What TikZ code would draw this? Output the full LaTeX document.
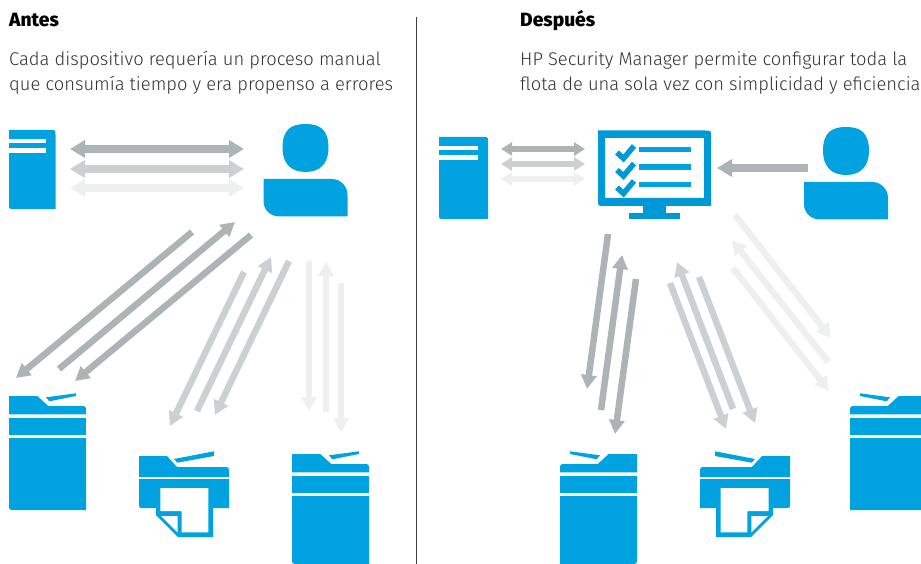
\documentclass[tikz,border=0pt]{standalone}
\usepackage{fontspec}
\setmainfont{Fira Sans}[UprightFont=* Light,BoldFont=* ExtraBold]
\usetikzlibrary{arrows.meta}
\definecolor{azul}{HTML}{00A3E0}
\definecolor{azulm}{HTML}{0099D8}
\definecolor{oscuro}{HTML}{AEB3B5}
\definecolor{medio}{HTML}{CDD0D2}
\definecolor{claro}{HTML}{EEEFEF}
\begin{document}
\begin{tikzpicture}[x=1pt,y=-1pt]
% Estilos
\tikzstyle{icono}=[fill=azul,draw=none]
\tikzstyle{hueco}=[fill=white,draw=none]
\tikzstyle{titulo}=[anchor=base west,inner sep=0pt,font=\fontsize{19.2}{22}\selectfont\bfseries]
\tikzstyle{texto}=[anchor=base west,inner sep=0pt,font=\fontsize{18.35}{24}\selectfont,text=black!80]
\tikzstyle{simple}=[line width=6.5pt,-{Triangle[length=14pt,width=15pt]}]
\tikzstyle{doble}=[line width=8pt,{Triangle[length=15pt,width=17pt]}-{Triangle[length=15pt,width=17pt]}]
\tikzstyle{dobleb}=[line width=5.5pt,{Triangle[length=11pt,width=13pt]}-{Triangle[length=11pt,width=13pt]}]
\tikzstyle{entrada}=[line width=7.5pt,-{Triangle[length=15pt,width=17pt]}]
% Iconos
\def\servidor#1#2#3#4{
\begin{scope}[shift={(#1,#2)}]
\fill[icono] (0,0) -- (#3-5,0) .. controls (#3,0) .. (#3,5) -- (#3,#4) -- (5,#4) .. controls (0,#4) .. (0,#4-5) -- cycle;
\fill[hueco] (0,9.5) rectangle (#3-10,13.5);
\fill[hueco] (0,18.5) rectangle (#3-10,23);
\end{scope}}
\def\usuario#1#2{
\begin{scope}[shift={(#1,#2)}]
\fill[icono] (42,0) .. controls (57,0) and (65,6) .. (65,24) .. controls (65,39) and (57,48) .. (42,48) .. controls (27,48) and (19,39) .. (19,24) .. controls (19,6) and (27,0) .. (42,0) -- cycle;
\fill[icono] (0,55) -- (68,55) .. controls (77,55) and (84,62) .. (84,71) -- (84,92.5) -- (16,92.5) .. controls (7,92.5) and (0,86) .. (0,77) -- cycle;
\end{scope}}
\def\tapa{
\fill[icono] (0,0) -- (28.3,0) -- (39.3,10) -- (71,10) .. controls (77,10) .. (77,16) -- (77,18.3) -- (0,18.3) -- cycle;
\fill[icono] (37,1.3) -- (67,-2.7) -- (67,0) -- (40.3,5.3) -- cycle;
}
\def\multifuncion#1#2#3#4{
\begin{scope}[shift={(#1,#2)},xscale=#4]
\tapa
\fill[icono] (0,22) rectangle (77,39);
\fill[icono] (0,42) -- (77,42) -- (77,#3) -- (6,#3) .. controls (0,#3) .. (0,#3-6) -- cycle;
\end{scope}}
\def\impresora#1#2#3{
\begin{scope}[shift={(#1,#2)},xscale=#3]
\fill[icono] (0,0) -- (28,0) -- (38,11) -- (84,11) .. controls (90,11) .. (90,17) -- (90,21) -- (0,21) -- cycle;
\fill[icono] (35,3) -- (75,-4.7) -- (75,0) -- (38.3,6.7) -- cycle;
\fill[icono] (0,23) -- (90,23) -- (90,52) -- (74,52) -- (74,81) -- (39,81) -- (17,59) -- (17,52) -- (5,52) .. controls (0,52) .. (0,47) -- cycle;
\fill[hueco] (21.3,32) -- (69.3,32) -- (69.3,76.3) -- (42.7,76.3) -- (42.7,57) .. controls (42.7,55) .. (40.7,55) -- (21.3,55) -- cycle;
\fill[hueco] (22,60) -- (38.7,60) -- (38.7,76.5) -- cycle;
\end{scope}}
% Marco
\useasboundingbox (0,0) rectangle (921,564);
\clip (0,0) rectangle (921,564);
% Textos
\node[titulo] (antes) at (9,27) {Antes};
\node[texto] (antesa) at (9,66) {Cada dispositivo requería un proceso manual};
\node[texto] (antesb) at (9,91) {que consumía tiempo y era propenso a errores};
\node[titulo] (despues) at (520,27) {Después};
\node[texto] (despuesa) at (520,66) {HP Security Manager permite configurar toda la};
\node[texto] (despuesb) at (520,91) {flota de una sola vez con simplicidad y eficiencia};
% Separador
\coordinate (sepa) at (416.5,17);
\coordinate (sepb) at (416.5,564);
\draw[line width=1pt,black!75] (sepa) -- (sepb);
% Antes : iconos
\servidor{9}{130}{46.5}{79}
\usuario{263.5}{124}
\multifuncion{9}{396}{114}{1}
\impresora{139}{456}{1}
\multifuncion{292}{454}{110}{1}
% Despues : iconos
\servidor{439}{137}{49}{82}
\usuario{804}{127}
\multifuncion{637}{454}{110}{-1}
\impresora{790}{456}{-1}
\multifuncion{927}{396}{114}{-1}
% Monitor
\fill[azulm,even odd rule] (598,130.5) -- (705,130.5) .. controls (711,130.5) .. (711,136.5) -- (711,206) -- (604,206) .. controls (598,206) .. (598,200) -- cycle
 (605,138) rectangle (704,198);
\fill[azulm] (643,206) rectangle (666,214);
\fill[azulm] (629,213.5) rectangle (680,219);
\foreach \dy in {0,17.5,35} {
\draw[azulm,line width=5.5pt,miter limit=10] (617,152.5+\dy) -- (623.5,158.5+\dy) -- (634,146+\dy);
\fill[azul] (639,147+\dy) rectangle (691,152.5+\dy);
}
% Flechas
\foreach \n/\e/\c/\xa/\ya/\xb/\yb in {
sa/doble/oscuro/70/149/244/149,
sb/doble/medio/70/169/244/169,
sc/doble/claro/70/188/244/188,
aa/simple/oscuro/192/232/16/378,
ab/simple/oscuro/59/369/235/222,
ac/simple/oscuro/251/235/75/381,
ba/simple/medio/244/272/170/426,
bb/simple/medio/197/411/271/257,
bc/simple/medio/289/261/215/415,
ca/simple/claro/309/261/309/411,
cb/simple/claro/326/412/326/262,
cc/simple/claro/341/283/341/432,
ta/dobleb/oscuro/501/149/585/149,
tb/dobleb/medio/501/164/585/164,
tc/dobleb/claro/501/179/585/179,
ue/entrada/oscuro/808/168/717/168,
da/simple/oscuro/608/234/587/389,
db/simple/oscuro/601/410/622/255,
dc/simple/oscuro/636/279/615/434,
ea/simple/medio/670/283/726/429,
eb/simple/medio/733/409/677/262,
ec/simple/medio/699/277/755/423,
fa/simple/claro/735/215/831/338,
fb/simple/claro/828/362/732/240,
fc/simple/claro/733/268/829/391%
} {
\coordinate (\n i) at (\xa,\ya);
\coordinate (\n f) at (\xb,\yb);
\draw[\e,\c] (\n i) -- (\n f);
}
\end{tikzpicture}
\end{document}
